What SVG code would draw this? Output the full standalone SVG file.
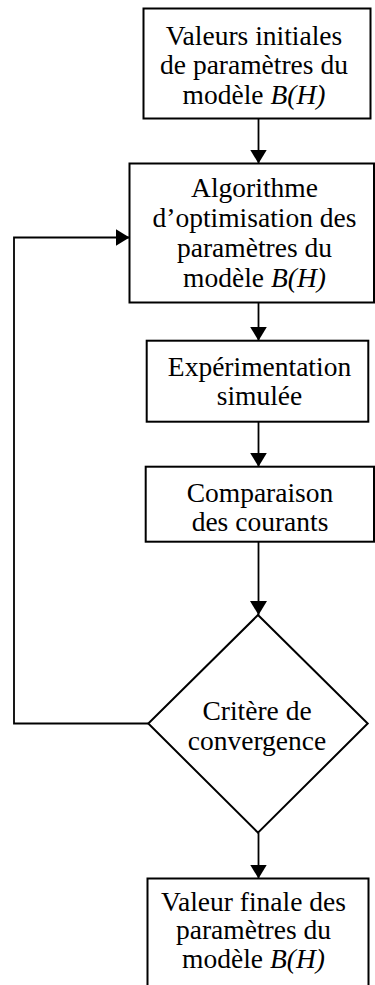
<svg xmlns="http://www.w3.org/2000/svg" width="375" height="985" viewBox="0 0 375 985">
<style>
.node{fill:#fff;stroke:#000;stroke-width:2}
.t{font-family:"Liberation Serif","Times New Roman",serif;font-size:27.5px;fill:#000;text-anchor:middle}
.i{font-style:italic}
.c{fill:none;stroke:#000;stroke-width:1.8}
</style>
<defs>
<marker id="ah" markerUnits="userSpaceOnUse" markerWidth="14" markerHeight="17" refX="14" refY="8.5" orient="auto">
<path d="M0,0 L14,8.5 L0,17 z" fill="#000"/>
</marker>
</defs>
<rect width="375" height="985" fill="#fff"/>
<g id="connectors">
<line class="c" x1="258.5" y1="118.5" x2="258.5" y2="163.5" marker-end="url(#ah)"/>
<line class="c" x1="258.5" y1="302.5" x2="258.5" y2="340.7" marker-end="url(#ah)"/>
<line class="c" x1="258.5" y1="421.7" x2="258.5" y2="466.7" marker-end="url(#ah)"/>
<line class="c" x1="258.5" y1="541.7" x2="258.5" y2="615" marker-end="url(#ah)"/>
<line class="c" x1="258.5" y1="832.7" x2="258.5" y2="878.5" marker-end="url(#ah)"/>
<polyline class="c" points="148.3,723.5 14,723.5 14,237.5 129.5,237.5" marker-end="url(#ah)"/>
</g>
<g id="n1">
<rect class="node" x="143.5" y="8.5" width="227" height="110"/>
<text class="t" x="254" y="44.5">Valeurs initiales</text>
<text class="t" x="254" y="74">de paramètres du</text>
<text class="t" x="254" y="103.5">modèle <tspan class="i">B(H)</tspan></text>
</g>
<g id="n2">
<rect class="node" x="129.5" y="163.5" width="244.5" height="139"/>
<text class="t" x="254.5" y="196.7">Algorithme</text>
<text class="t" x="254.5" y="226.7">d’optimisation des</text>
<text class="t" x="254.5" y="256.7">paramètres du</text>
<text class="t" x="254.5" y="286.7">modèle <tspan class="i">B(H)</tspan></text>
</g>
<g id="n3">
<rect class="node" x="146.7" y="340.7" width="221.6" height="81"/>
<text class="t" x="259.5" y="376">Expérimentation</text>
<text class="t" x="259.5" y="405">simulée</text>
</g>
<g id="n4">
<rect class="node" x="145.7" y="466.7" width="228.3" height="75"/>
<text class="t" x="260" y="501.7">Comparaison</text>
<text class="t" x="260" y="530.7">des courants</text>
</g>
<g id="n5">
<polygon class="node" points="258,615 367.7,723.5 258,832.7 148.3,723.5"/>
<text class="t" x="257" y="720">Critère de</text>
<text class="t" x="257" y="749.5">convergence</text>
</g>
<g id="n6">
<rect class="node" x="147.5" y="878.5" width="221" height="120"/>
<text class="t" x="253.5" y="910.5">Valeur finale des</text>
<text class="t" x="253.5" y="939">paramètres du</text>
<text class="t" x="253.5" y="967.5">modèle <tspan class="i">B(H)</tspan></text>
</g>
</svg>
